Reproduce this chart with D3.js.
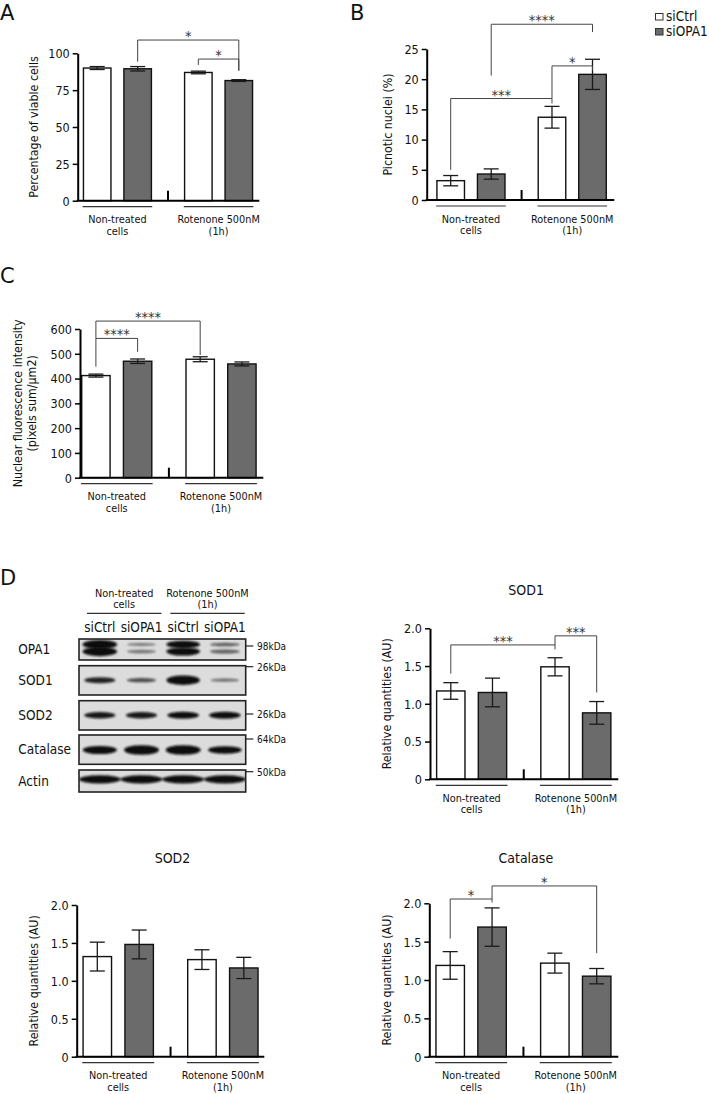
<!DOCTYPE html>
<html>
<head>
<meta charset="utf-8">
<script src="https://cdn.jsdelivr.net/npm/d3@7"></script>
<style>
body{margin:0;background:#fff}
svg{display:block;font-family:"DejaVu Sans Condensed","DejaVu Sans",sans-serif}
</style>
</head>
<body>
<svg id="fig" width="709" height="1094"></svg>
<script>
// categories
var conditions = [["Non-treated", "cells"], ["Rotenone 500nM", "(1h)"]];
var series = ["siCtrl", "siOPA1"];
var seriesFill = ["#ffffff", "#6b6b6b"];

// A - percentage of viable cells (order: ctrl/NT, opa1/NT, ctrl/Rot, opa1/Rot)
var viableMean = [90, 89.5, 87, 81.5];
var viableErr = [1, 1.5, 0.9, 0.6];
var viableTicks = [0, 25, 50, 75, 100];
var viableSig = [
    {a: 1, b: 3, y: 109, ya: 94.3, yb: 88.2, label: "*"},
    {a: 2, b: 3, y: 96.1, ya: 92.1, yb: 88.2, label: "*"}
];

// B - picnotic nuclei (%)
var picnoticMean = [3.2, 4.3, 13.7, 20.8];
var picnoticErr = [0.85, 0.85, 1.8, 2.5];
var picnoticTicks = [0, 5, 10, 15, 20, 25];
var picnoticSig = [
    {a: 0, b: 2, y: 16.8, ya: 5.0, yb: 16.0, label: "***"},
    {a: 2, b: 3, y: 22.2, ya: 16.8, yb: 21.4, label: "*"},
    {a: 1, b: 3, y: 29.1, ya: 20.6, yb: 27.8, label: "****"}
];

// C - nuclear fluorescence intensity
var fluoMean = [412, 470, 478, 459];
var fluoErr = [6, 9, 10, 8];
var fluoTicks = [0, 100, 200, 300, 400, 500, 600];
var fluoSig = [
    {a: 0, b: 1, y: 562, ya: 448, yb: 508, label: "****"},
    {a: 0, b: 2, y: 632, ya: 562, yb: 495, label: "****"}
];

// D - densitometry
var sod1Mean = [1.17, 1.15, 1.49, 0.88];
var sod1Err = [0.11, 0.19, 0.12, 0.15];
var sod1Sig = [
    {a: 0, b: 2, y: 1.78, ya: 1.40, yb: 1.72, label: "***"},
    {a: 2, b: 3, y: 1.90, ya: 1.78, yb: 1.15, label: "***"}
];
var sod2Mean = [1.32, 1.48, 1.28, 1.17];
var sod2Err = [0.19, 0.19, 0.13, 0.14];
var catMean = [1.19, 1.69, 1.22, 1.05];
var catErr = [0.18, 0.25, 0.13, 0.10];
var catSig = [
    {a: 0, b: 1, y: 2.056, ya: 1.54, yb: 2.01, label: "*"},
    {a: 1, b: 3, y: 2.226, ya: 2.056, yb: 1.35, label: "*"}
];
var relTicks = [0, 0.5, 1.0, 1.5, 2.0];

// western blot: band intensity per lane (0..1)
var lanes = ["siCtrl", "siOPA1", "siCtrl", "siOPA1"];
var blotRows = ["OPA1", "SOD1", "SOD2", "Catalase", "Actin"];
var bandsOPA1 = [0.95, 0.3, 0.85, 0.4];
var bandsSOD1 = [0.7, 0.5, 1.0, 0.35];
var bandsSOD2 = [0.75, 0.75, 0.8, 0.8];
var bandsCatalase = [0.9, 1.0, 1.0, 0.85];
var bandsActin = [0.9, 0.9, 0.9, 0.9];
var markers = ["98kDa", "26kDa", "26kDa", "64kDa", "50kDa"];

var svg = d3.select("#fig");
var ink = "#111";

function txt(g, x, y, s, size, anchor) {
    return g.append("text").attr("x", x).attr("y", y).attr("font-size", size)
        .attr("text-anchor", anchor || "middle").attr("fill", ink).text(s);
}

function barPanel(o) {
    var g = svg.append("g");
    var x = d3.scaleLinear().domain([0, 3.5]).range([o.c0, o.c3]);
    var y = d3.scaleLinear().domain([0, o.ymax]).range([o.bottom, o.top]);
    var bw = (x(1) - x(0)) * 0.68;
    var rows = o.mean.map(function (m, i) {
        return {m: m, e: o.err[i], s: i % 2, pos: Math.floor(i / 2) * 2.5 + i % 2};
    });

    g.selectAll("rect.bar").data(rows).enter().append("rect")
        .attr("x", function (d) { return x(d.pos) - bw / 2; })
        .attr("width", bw)
        .attr("y", function (d) { return y(d.m); })
        .attr("height", function (d) { return y(0) - y(d.m); })
        .attr("fill", function (d) { return seriesFill[d.s]; })
        .attr("stroke", ink).attr("stroke-width", 1.4);

    //error bars
    var eb = g.selectAll("g.err").data(rows).enter().append("g")
        .attr("stroke", "#1a1a1a").attr("stroke-width", 1.3);
    eb.append("line")
        .attr("x1", function (d) { return x(d.pos); }).attr("x2", function (d) { return x(d.pos); })
        .attr("y1", function (d) { return y(d.m - d.e); }).attr("y2", function (d) { return y(d.m + d.e); });
    [-1, 1].forEach(function (k) {
        eb.append("line")
            .attr("x1", function (d) { return x(d.pos) - 7.5; }).attr("x2", function (d) { return x(d.pos) + 7.5; })
            .attr("y1", function (d) { return y(d.m + k * d.e); }).attr("y2", function (d) { return y(d.m + k * d.e); });
    });

    //y axis
    var ax = g.append("g").attr("transform", "translate(" + o.left + ",0)")
        .call(d3.axisLeft(y).tickValues(o.ticks).tickSize(5).tickSizeOuter(0).tickPadding(3)
            .tickFormat(o.fmt || d3.format("d")));
    ax.attr("font-family", null).attr("font-size", null);
    ax.select(".domain").attr("stroke", "#000").attr("stroke-width", 2);
    ax.selectAll(".tick line").attr("stroke", "#000").attr("stroke-width", 1.5);
    ax.selectAll(".tick text").attr("font-size", 12.5).attr("fill", ink).attr("dy", "0.35em");

    //x axis line and the mark between the groups
    g.append("line").attr("x1", o.left - 1).attr("x2", o.right)
        .attr("y1", y(0)).attr("y2", y(0)).attr("stroke", "#000").attr("stroke-width", 2);
    g.append("line").attr("x1", x(1.75)).attr("x2", x(1.75))
        .attr("y1", y(0)).attr("y2", y(0) - 10).attr("stroke", "#000").attr("stroke-width", 2);

    conditions.forEach(function (c, k) {
        var a = x(k * 2.5 - 0.36), b = x(k * 2.5 + 1.36);
        g.append("line").attr("x1", a).attr("x2", b)
            .attr("y1", o.bottom + 6).attr("y2", o.bottom + 6).attr("stroke", "#333").attr("stroke-width", 1.2);
        txt(g, (a + b) / 2, o.bottom + 22.5, c[0], 10.8);
        txt(g, (a + b) / 2, o.bottom + 34, c[1], 10.8);
    });

    //significance brackets
    (o.sig || []).forEach(function (s) {
        var xa = x(rows[s.a].pos), xb = x(rows[s.b].pos);
        g.append("path")
            .attr("d", "M" + xa + "," + y(s.ya) + "V" + y(s.y) + "H" + xb + "V" + y(s.yb))
            .attr("fill", "none").attr("stroke", "#444").attr("stroke-width", 1);
        txt(g, (xa + xb) / 2, y(s.y) + 1, s.label, 14.5).attr("fill", "#333");
    });

    //y label
    var cy = (o.top + o.bottom) / 2;
    o.ylabel.forEach(function (l, i) {
        var lx = o.left - o.labOff + i * 14;
        txt(g, 0, 0, l, 12.3).attr("transform", "translate(" + lx + "," + cy + ") rotate(-90)");
    });

    if (o.title) txt(g, (o.left + o.right) / 2 + 2, o.titleY, o.title, 14);
}

// panel letters
[["A", 0, 20], ["B", 350, 20], ["C", 0, 283], ["D", 0, 585]].forEach(function (p) {
    txt(svg, p[1], p[2], p[0], 21, "start").attr("font-family", "DejaVu Sans");
});

// legend
series.forEach(function (s, i) {
    svg.append("rect").attr("x", 655.5).attr("y", 13.5 + i * 15).attr("width", 7.5).attr("height", 6.5)
        .attr("fill", seriesFill[i]).attr("stroke", "#333").attr("stroke-width", 1);
    txt(svg, 666, 21 + i * 15, s, 13.5, "start");
});

barPanel({mean: viableMean, err: viableErr, ticks: viableTicks, sig: viableSig, ymax: 100,
    left: 77.7, c0: 97.2, c3: 238.8, right: 259.3, bottom: 200.7, top: 53.3,
    ylabel: ["Percentage of viable cells"], labOff: 40});

barPanel({mean: picnoticMean, err: picnoticErr, ticks: picnoticTicks, sig: picnoticSig, ymax: 25,
    left: 426.7, c0: 450.7, c3: 592.5, right: 614.3, bottom: 200, top: 49,
    ylabel: ["Picnotic nuclei (%)"], labOff: 35});

barPanel({mean: fluoMean, err: fluoErr, ticks: fluoTicks, sig: fluoSig, ymax: 600,
    left: 80, c0: 95.9, c3: 241.9, right: 263.3, bottom: 477.7, top: 329,
    ylabel: ["Nuclear fluorescence intensity", "(pixels sum/\u00b5m2)"], labOff: 58});

var relFmt = function (d) { return d === 0 ? "0" : d3.format(".1f")(d); };

barPanel({mean: sod1Mean, err: sod1Err, ticks: relTicks, sig: sod1Sig, ymax: 2, fmt: relFmt,
    left: 430, c0: 450.8, c3: 596.7, right: 618.3, bottom: 779.3, top: 628.3,
    ylabel: ["Relative quantities (AU)"], labOff: 39, title: "SOD1", titleY: 595});

barPanel({mean: sod2Mean, err: sod2Err, ticks: relTicks, ymax: 2, fmt: relFmt,
    left: 76.7, c0: 97.3, c3: 243.8, right: 264.3, bottom: 1056.7, top: 905,
    ylabel: ["Relative quantities (AU)"], labOff: 39, title: "SOD2", titleY: 863.3});

barPanel({mean: catMean, err: catErr, ticks: relTicks, sig: catSig, ymax: 2, fmt: relFmt,
    left: 429.3, c0: 450.2, c3: 596.7, right: 618.3, bottom: 1056.7, top: 903.3,
    ylabel: ["Relative quantities (AU)"], labOff: 38, title: "Catalase", titleY: 862.7});

// western blot
(function () {
    var g = svg.append("g");
    var lx = d3.scaleBand().domain(d3.range(lanes.length)).range([79, 245.7]);
    var rowBox = [[639, 660], [665.7, 695], [700.7, 730], [735, 764.3], [770, 792]];
    var bandY = [[5.5, 12.5], [14.5], [14.5], [15], [9.3]];
    var bandData = [bandsOPA1, bandsSOD1, bandsSOD2, bandsCatalase, bandsActin];
    var bandWide = [0.42, 0.4, 0.4, 0.42, 0.52];
    var markerY = [646, 666.7, 714, 739, 771.7];

    var defs = svg.append("defs");
    defs.append("filter").attr("id", "blur").attr("x", "-20%").attr("y", "-100%")
        .attr("width", "140%").attr("height", "300%")
        .append("feGaussianBlur").attr("stdDeviation", 1.3);

    // header
    conditions.forEach(function (c, k) {
        var a = lx(k * 2) + 8, b = lx(k * 2 + 1) + lx.bandwidth() - 1;
        txt(g, (a + b) / 2, 597, c[0], 10.8);
        txt(g, (a + b) / 2, 608, c[1], 10.8);
        g.append("line").attr("x1", a).attr("x2", b).attr("y1", 613.3).attr("y2", 613.3)
            .attr("stroke", "#333").attr("stroke-width", 1.2);
    });
    lanes.forEach(function (l, i) {
        txt(g, lx(i) + lx.bandwidth() / 2, 632, l, 13.5);
    });

    blotRows.forEach(function (name, r) {
        var y0 = rowBox[r][0], y1 = rowBox[r][1];
        defs.append("clipPath").attr("id", "clip" + r).append("rect")
            .attr("x", 79).attr("y", y0).attr("width", 166.7).attr("height", y1 - y0);
        g.append("rect").attr("x", 79).attr("y", y0).attr("width", 166.7).attr("height", y1 - y0)
            .attr("fill", "#dcdcdc");
        var bg = g.append("g").attr("clip-path", "url(#clip" + r + ")");
        bandY[r].forEach(function (off, j) {
            bg.selectAll(null).data(bandData[r]).enter().append("ellipse")
                .attr("cx", function (d, i) { return lx(i) + lx.bandwidth() / 2; })
                .attr("cy", y0 + off)
                .attr("rx", function (d) { return lx.bandwidth() * bandWide[r] * (0.75 + 0.25 * d); })
                .attr("ry", function (d) { return (j === 1 ? 1.5 : 1.2) + 3.6 * d * d; })
                .attr("fill", "#0d0d0d")
                .attr("opacity", function (d) { return Math.min(1, 0.2 + d); })
                .attr("filter", "url(#blur)");
        });
        g.append("rect").attr("x", 79).attr("y", y0).attr("width", 166.7).attr("height", y1 - y0)
            .attr("fill", "none").attr("stroke", "#222").attr("stroke-width", 1.6);
        txt(g, 18.3, (y0 + y1) / 2 + 4.8, name, 13.5, "start");

        g.append("line").attr("x1", 245.7).attr("x2", 253.3).attr("y1", markerY[r]).attr("y2", markerY[r])
            .attr("stroke", "#222").attr("stroke-width", 1.2);
        txt(g, 257, markerY[r] + 3.8, markers[r], 10, "start");
    });
})();
</script>
</body>
</html>
